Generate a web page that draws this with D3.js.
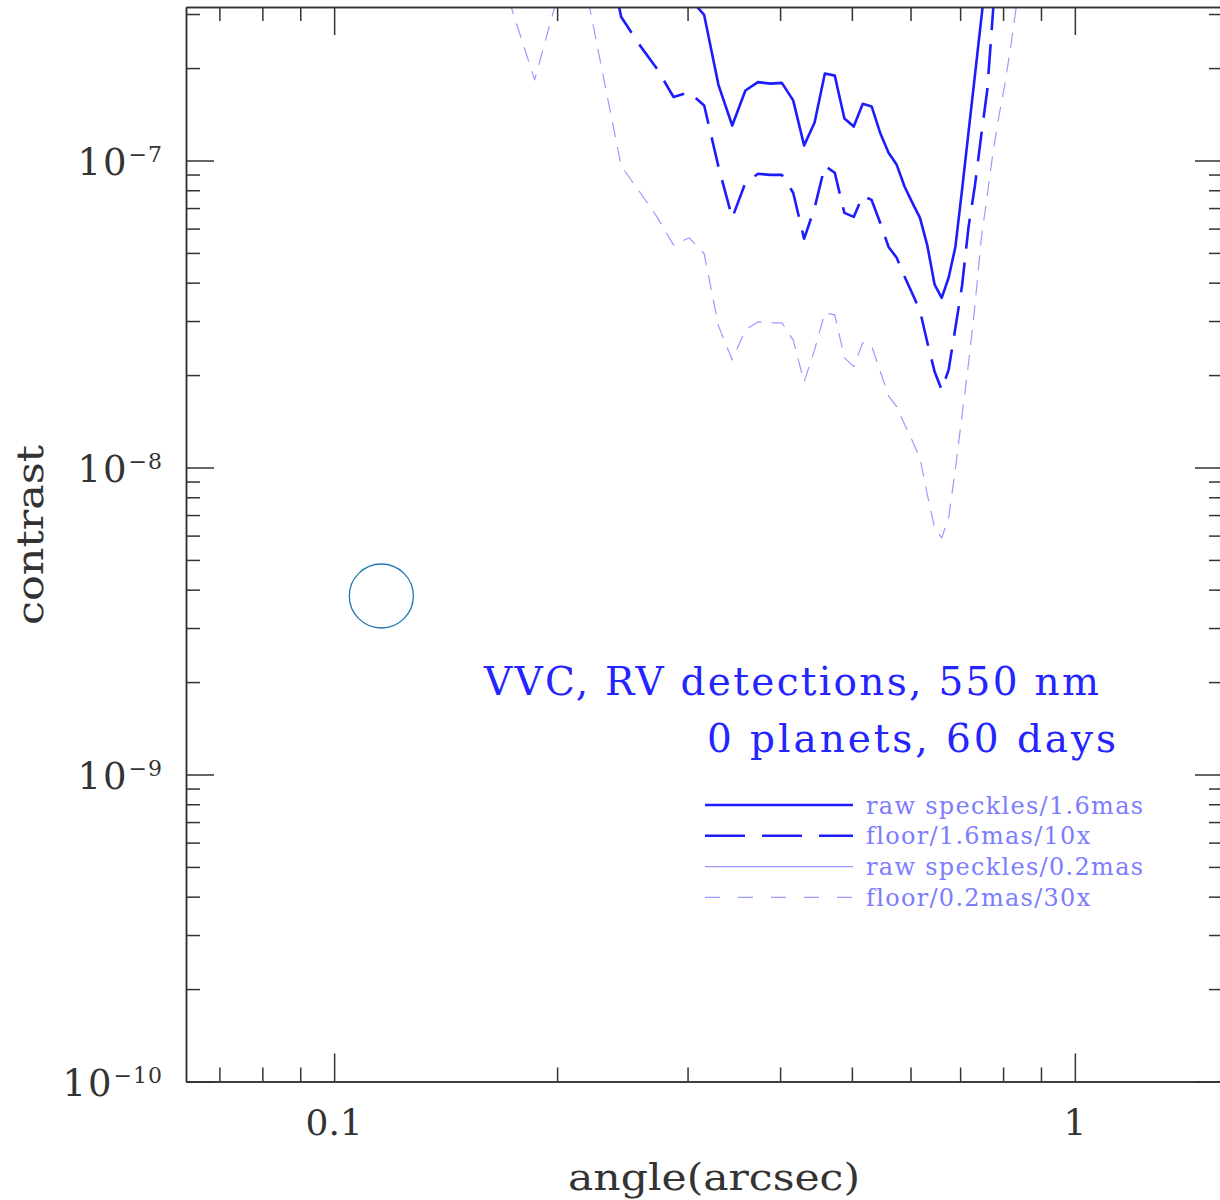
<!DOCTYPE html>
<html>
<head>
<meta charset="utf-8">
<script src="https://cdn.jsdelivr.net/npm/d3@7"></script>
<style>
  body { margin: 0; background: #fff; }
  svg { display: block; }
  text { font-family: "DejaVu Serif", serif; }
</style>
</head>
<body>
<svg id="chart" width="1220" height="1200"></svg>
<script>
// angle grid (arcsec) shared by all curves
var angle = [0.1721, 0.1865, 0.2009, 0.2153, 0.2296, 0.2440, 0.2584, 0.2728, 0.2872, 0.3015,
  0.3159, 0.3303, 0.3447, 0.3591, 0.3734, 0.3878, 0.4022, 0.4166, 0.4310, 0.4453,
  0.4597, 0.4741, 0.4885, 0.5029, 0.5172, 0.5316, 0.5460, 0.5604, 0.5748, 0.5891,
  0.6035, 0.6179, 0.6323, 0.6467, 0.6610, 0.6754, 0.6898, 0.7042, 0.7186, 0.7329,
  0.7473, 0.7617, 0.7761, 0.7905, 0.8048, 0.8192, 0.8336, 0.8480];

// raw speckles / 1.6mas (solid, bold)
var raw16 = [null, null, null, null, null, null, null, 4.18e-7, 3.22e-7, 3.39e-7,
  2.98e-7, 1.76e-7, 1.30e-7, 1.69e-7, 1.80e-7, 1.78e-7, 1.79e-7, 1.57e-7, 1.12e-7, 1.33e-7,
  1.92e-7, 1.89e-7, 1.37e-7, 1.29e-7, 1.53e-7, 1.50e-7, 1.23e-7, 1.06e-7, 9.68e-8, 8.21e-8,
  7.28e-8, 6.50e-8, 5.27e-8, 3.94e-8, 3.57e-8, 4.15e-8, 5.23e-8, 8.02e-8, 1.24e-7, 1.89e-7,
  2.87e-7, 4.31e-7, null, null, null, null, null, null];

// floor / 1.6mas / 10x (long dashes, bold)
var floor16 = [null, null, null, null, 6.08e-7, 2.94e-7, 2.38e-7, 1.99e-7, 1.61e-7, 1.67e-7,
  1.51e-7, 9.54e-8, 6.50e-8, 8.46e-8, 9.05e-8, 8.98e-8, 8.98e-8, 7.85e-8, 5.56e-8, 7.01e-8,
  9.61e-8, 9.12e-8, 6.75e-8, 6.55e-8, 7.67e-8, 7.44e-8, 6.27e-8, 5.23e-8, 4.82e-8, 4.18e-8,
  3.68e-8, 3.24e-8, 2.55e-8, 2.05e-8, 1.79e-8, 2.08e-8, 2.85e-8, 3.91e-8, 6.08e-8, 8.27e-8,
  1.20e-7, 1.70e-7, 3.15e-7, 5.64e-7, null, null, null, null];

// raw speckles / 0.2mas (thin solid) - stays above the plotted range
var raw02 = [];

// floor / 0.2mas / 30x (short dashes, thin)
var floor02 = [3.34e-7, 1.83e-7, 3.52e-7, 4.41e-7, 2.01e-7, 9.61e-8, 7.91e-8, 6.55e-8, 5.31e-8, 5.60e-8,
  4.97e-8, 2.89e-8, 2.24e-8, 2.81e-8, 2.98e-8, 2.96e-8, 2.96e-8, 2.60e-8, 1.90e-8, 2.42e-8,
  3.19e-8, 3.14e-8, 2.28e-8, 2.13e-8, 2.55e-8, 2.49e-8, 2.06e-8, 1.71e-8, 1.58e-8, 1.38e-8,
  1.22e-8, 1.07e-8, 8.14e-9, 6.36e-9, 5.90e-9, 6.85e-9, 9.89e-9, 1.48e-8, 2.19e-8, 3.36e-8,
  5.51e-8, 7.73e-8, 1.08e-7, 1.41e-7, 1.78e-7, 2.35e-7, 3.17e-7, 4.18e-7];

var seriesNames = ["raw speckles/1.6mas", "floor/1.6mas/10x", "raw speckles/0.2mas", "floor/0.2mas/30x"];
var marker = [{angle: 0.1158, contrast: 3.815e-9}];

var xTicks = [0.1, 1];
var xTickLabels = ["0.1", "1"];
var xMinor = [0.07, 0.08, 0.09, 0.2, 0.3, 0.4, 0.5, 0.6, 0.7, 0.8, 0.9];
var yTickExps = [-10, -9, -8, -7];
var yMinorMult = [2, 3, 4, 5, 6, 7, 8, 9];

var titleLines = ["VVC, RV detections, 550 nm", "0 planets, 60 days"];

var BOLD = "#1c1cff", LIGHT = "#9a9aff", AXIS = "#333";
var styles = [
  {color: BOLD, width: 2.6, dash: null, legendDash: null},
  {color: BOLD, width: 2.6, dash: "30,14", legendDash: "40,17"},
  {color: LIGHT, width: 1.2, dash: null, legendDash: null},
  {color: LIGHT, width: 1.2, dash: "15,10", legendDash: "15,18"}
];

var svg = d3.select("#chart");
var pLeft = 186, pRight = 1223, pTop = 7, pBottom = 1081.5;

var x = d3.scaleLog().domain([Math.pow(10, -1.2), Math.pow(10, 0.2)]).range([pLeft, pRight]);
var y = d3.scaleLog().domain([1e-10, Math.pow(10, -6.5)]).range([pBottom, pTop]);

svg.append("rect").attr("width", 1220).attr("height", 1200).attr("fill", "#fff");

svg.append("clipPath").attr("id", "plot")
  .append("rect").attr("x", pLeft).attr("y", pTop).attr("width", pRight - pLeft).attr("height", pBottom - pTop);

// curves
var line = d3.line()
  .defined(function(d) { return d[1] != null; })
  .x(function(d) { return x(d[0]); })
  .y(function(d) { return y(d[1]); });

var allSeries = [raw16, floor16, raw02, floor02];
var curves = svg.append("g").attr("clip-path", "url(#plot)");
allSeries.forEach(function(s, i) {
  if (!s.length) return;
  var pts = angle.map(function(a, j) { return [a, s[j]]; });
  curves.append("path")
    .attr("d", line(pts))
    .attr("fill", "none")
    .attr("stroke", styles[i].color)
    .attr("stroke-width", styles[i].width)
    .attr("stroke-dasharray", styles[i].dash)
    .attr("stroke-linejoin", "round");
});

// marker circle
curves.selectAll(".marker").data(marker).enter()
  .append("circle")
  .attr("class", "marker")
  .attr("cx", function(d) { return x(d.angle); })
  .attr("cy", function(d) { return y(d.contrast); })
  .attr("r", 32)
  .attr("fill", "none")
  .attr("stroke", "#1f77b4")
  .attr("stroke-width", 1.3);

// axes (ticks point inward on all four sides)
var yMajor = yTickExps.map(function(e) { return Math.pow(10, e); });
var yMinor = [];
yTickExps.forEach(function(e) {
  yMinorMult.forEach(function(m) {
    var v = m * Math.pow(10, e);
    if (v <= y.domain()[1]) yMinor.push(v);
  });
});

function styleAxis(g) {
  g.selectAll("path, line").attr("stroke", AXIS).attr("stroke-width", 1.5);
  g.selectAll("text").remove();
}

function drawAxis(axisFn, scale, transform, major, minor) {
  var g = svg.append("g").attr("transform", transform);
  g.append("g").call(axisFn(scale).tickValues(major).tickSize(28).tickSizeOuter(0).tickFormat("")).call(styleAxis);
  g.append("g").call(axisFn(scale).tickValues(minor).tickSize(14).tickSizeOuter(0).tickFormat("")).call(styleAxis);
}

drawAxis(d3.axisTop, x, "translate(0," + pBottom + ")", xTicks, xMinor);
drawAxis(d3.axisBottom, x, "translate(0," + pTop + ")", xTicks, xMinor);
drawAxis(d3.axisRight, y, "translate(" + pLeft + ",0)", yMajor, yMinor);
drawAxis(d3.axisLeft, y, "translate(" + pRight + ",0)", yMajor, yMinor);

// tick labels
svg.selectAll(".xlab").data(xTicks).enter()
  .append("text")
  .attr("class", "xlab")
  .attr("x", function(d) { return x(d); })
  .attr("y", 1135)
  .attr("text-anchor", "middle")
  .attr("font-size", 36)
  .attr("fill", AXIS)
  .text(function(d, i) { return xTickLabels[i]; });

var ylab = svg.selectAll(".ylab").data(yTickExps).enter()
  .append("text")
  .attr("class", "ylab")
  .attr("x", 163)
  .attr("y", function(d) { return y(Math.pow(10, d)) + 14; })
  .attr("text-anchor", "end")
  .attr("fill", AXIS);
ylab.append("tspan").attr("font-size", 37).attr("letter-spacing", 2).text("10");
ylab.append("tspan").attr("font-size", 22).attr("dy", -13).attr("letter-spacing", 1).text(function(d) { return "\u2212" + (-d); });

// axis titles
svg.append("text")
  .attr("x", 714).attr("y", 1190)
  .attr("text-anchor", "middle")
  .attr("font-size", 38)
  .attr("textLength", 292).attr("lengthAdjust", "spacingAndGlyphs")
  .attr("fill", AXIS)
  .text("angle(arcsec)");

svg.append("text")
  .attr("transform", "translate(43,535) rotate(-90)")
  .attr("text-anchor", "middle")
  .attr("font-size", 38)
  .attr("textLength", 180).attr("lengthAdjust", "spacingAndGlyphs")
  .attr("fill", AXIS)
  .text("contrast");

// annotation
svg.append("text")
  .attr("x", 484).attr("y", 695)
  .attr("font-size", 39)
  .attr("textLength", 615).attr("lengthAdjust", "spacing")
  .attr("fill", "#2424ff")
  .text(titleLines[0]);
svg.append("text")
  .attr("x", 707).attr("y", 752)
  .attr("font-size", 39)
  .attr("textLength", 409).attr("lengthAdjust", "spacing")
  .attr("fill", "#2424ff")
  .text(titleLines[1]);

// legend
var legend = svg.append("g").attr("transform", "translate(705,805)");
seriesNames.forEach(function(name, i) {
  var row = legend.append("g").attr("transform", "translate(0," + (i * 30.8) + ")");
  row.append("line")
    .attr("x1", 0).attr("x2", 148)
    .attr("stroke", styles[i].color)
    .attr("stroke-width", styles[i].width)
    .attr("stroke-dasharray", styles[i].legendDash);
  row.append("text")
    .attr("x", 161).attr("y", 8.5)
    .attr("font-size", 24)
    .attr("letter-spacing", 1.3)
    .attr("fill", "#7c7cff")
    .text(name);
});
</script>
</body>
</html>
